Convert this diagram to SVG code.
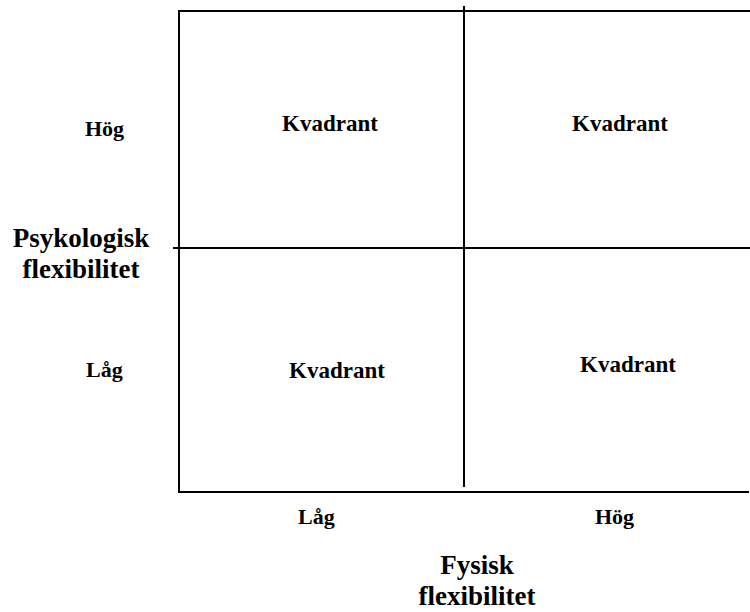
<svg xmlns="http://www.w3.org/2000/svg" width="750" height="612" viewBox="0 0 750 612">
  <style>
    .ln { stroke: #000; stroke-width: 2; fill: none; }
    text { font-family: "Liberation Serif", "Times New Roman", serif; font-weight: bold; fill: #000; }
    .q { font-size: 23px; }
    .tick { font-size: 22px; }
    .axis { font-size: 27px; text-anchor: middle; }
  </style>
  <rect width="750" height="612" fill="#fff"/>

  <!-- grid lines -->
  <g id="grid">
    <line class="ln" x1="179" y1="11" x2="750" y2="11"/>
    <line class="ln" x1="179" y1="10" x2="179" y2="493"/>
    <line class="ln" x1="178" y1="492" x2="749" y2="492"/>
    <line class="ln" x1="464" y1="6" x2="464" y2="487"/>
    <line class="ln" x1="173" y1="248" x2="750" y2="248"/>
  </g>

  <!-- quadrants -->
  <g id="q-top-left"><text class="q" x="282" y="131">Kvadrant</text></g>
  <g id="q-top-right"><text class="q" x="572" y="131">Kvadrant</text></g>
  <g id="q-bottom-left"><text class="q" x="289" y="378">Kvadrant</text></g>
  <g id="q-bottom-right"><text class="q" x="580" y="372">Kvadrant</text></g>

  <!-- vertical axis -->
  <g id="y-high"><text class="tick" x="85" y="136">Hög</text></g>
  <g id="y-low"><text class="tick" x="86" y="377">Låg</text></g>
  <g id="y-title">
    <text class="axis" x="81" y="247">Psykologisk</text>
    <text class="axis" x="81" y="278">flexibilitet</text>
  </g>

  <!-- horizontal axis -->
  <g id="x-low"><text class="tick" x="298" y="524">Låg</text></g>
  <g id="x-high"><text class="tick" x="595" y="524">Hög</text></g>
  <g id="x-title">
    <text class="axis" x="477" y="574">Fysisk</text>
    <text class="axis" x="477" y="605">flexibilitet</text>
  </g>
</svg>
